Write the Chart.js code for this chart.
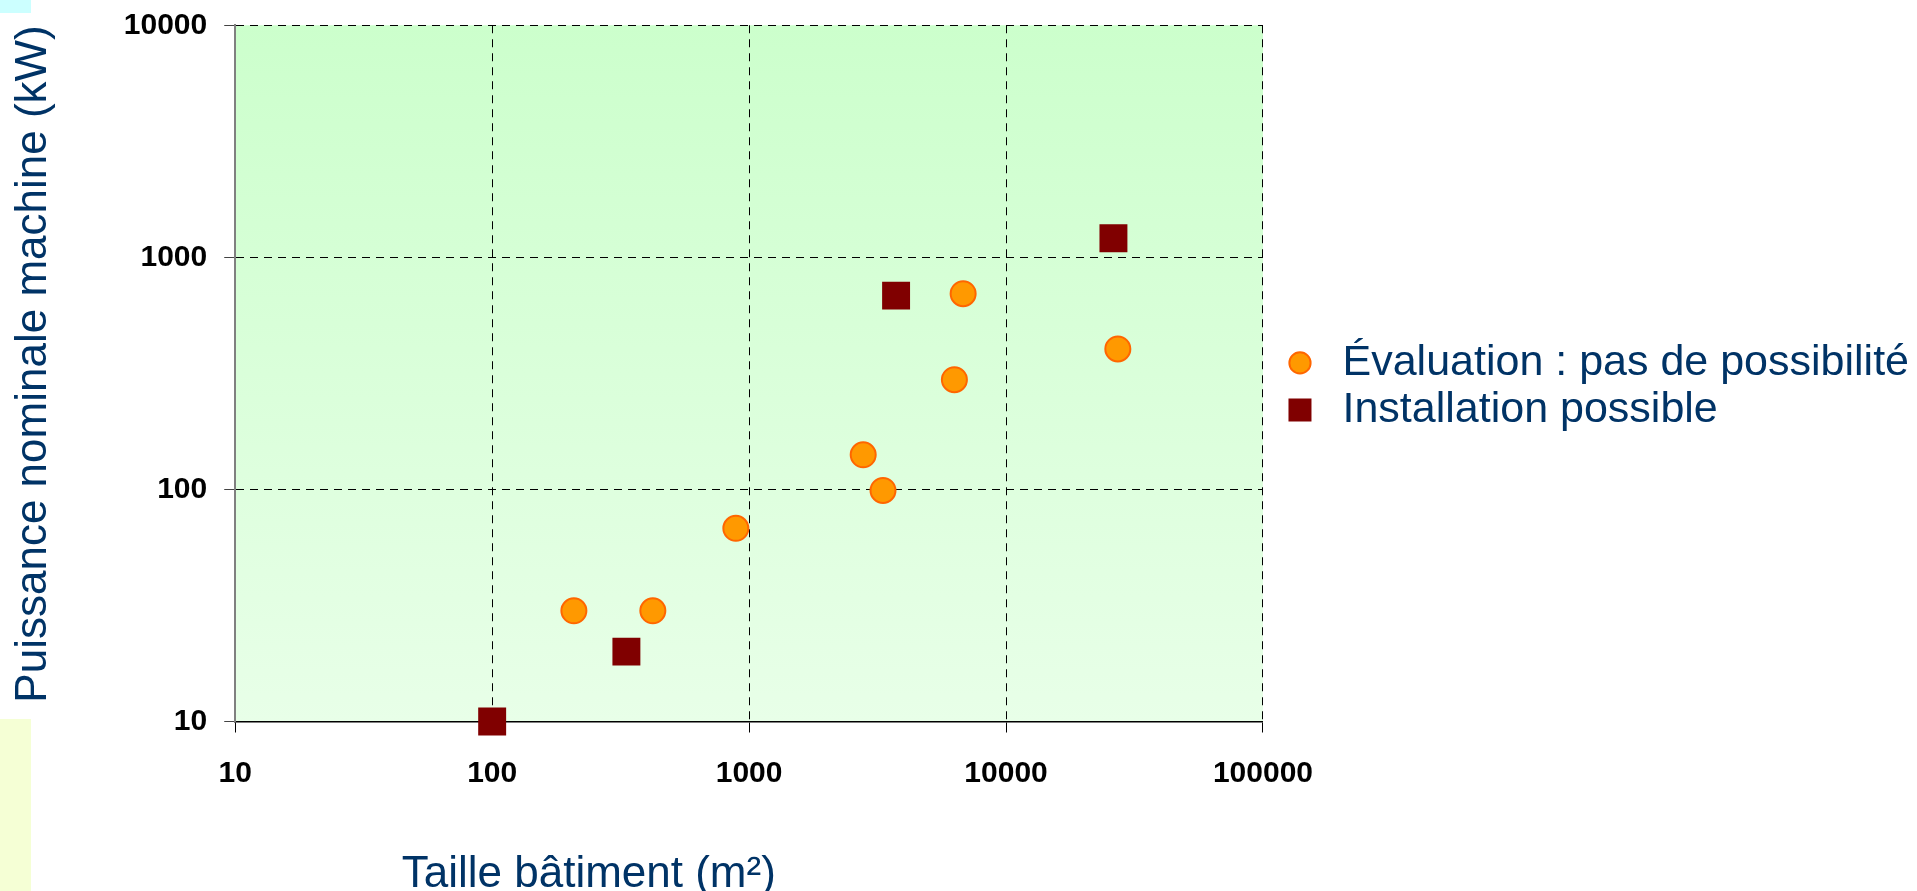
<!DOCTYPE html>
<html lang="fr">
<head>
<meta charset="UTF-8">
<title>Puissance nominale machine / taille bâtiment</title>
<script src="https://cdn.jsdelivr.net/npm/chart.js"></script>
<style>
  body { margin: 0; background: #fff; }
  .wrap { position: relative; width: 1917px; height: 891px; overflow: hidden; }
  .deco-top { position: absolute; left: 0; top: 0; width: 31px; height: 13px; background: #ccffff; }
  .deco-bottom { position: absolute; left: 0; top: 719px; width: 31px; height: 172px; background: #f5ffd5; }
  #chart { position: absolute; left: 0; top: 0; }
</style>
</head>
<body>
<div class="wrap">
  <div class="deco-top"></div>
  <div class="deco-bottom"></div>
  <canvas id="chart" width="1917" height="891"></canvas>
</div>
<script>
// graduations (échelles log)
const xTicks = [10, 100, 1000, 10000, 100000];
const yTicks = [10, 100, 1000, 10000];

// Évaluation : pas de possibilité
const evalX = [208, 422, 888, 2780, 3320, 6295, 6808, 27230];
const evalY = [30, 30, 68, 141, 99, 297, 697, 403];

// Installation possible
const instX = [100, 333, 3733, 26180];
const instY = [10, 20, 684, 1208];

const navy = '#003366';
const fontFamily = 'Arial, "Liberation Sans", sans-serif';
Chart.defaults.font.family = fontFamily;

// fond dégradé vert de la zone de tracé
const plotBg = {
  id: 'plotBg',
  beforeDraw(chart) {
    const { ctx, chartArea: a } = chart;
    const g = ctx.createLinearGradient(0, a.top, 0, a.bottom);
    g.addColorStop(0, '#ccffcc');
    g.addColorStop(1, '#e8ffe8');
    ctx.save();
    ctx.fillStyle = g;
    ctx.fillRect(a.left, a.top, a.width, a.height);
    ctx.restore();
  }
};

// titre de l'axe x, décalé à gauche comme sur la diapo
const xTitle = {
  id: 'xTitle',
  afterDraw(chart) {
    const { ctx, chartArea: a } = chart;
    ctx.save();
    ctx.font = '44px ' + fontFamily;
    ctx.fillStyle = navy;
    ctx.textAlign = 'center';
    ctx.textBaseline = 'alphabetic';
    ctx.fillText('Taille bâtiment (m²)', a.left + a.width * 0.344, a.bottom + 165.5);
    ctx.restore();
  }
};

// la légende est un peu plus éloignée du graphique que ce que Chart.js fait
const legendShift = {
  id: 'legendShift',
  afterLayout(chart) {
    if (chart.legend) {
      chart.legend.left += 12;
      chart.legend.right += 12;
    }
  }
};

const toPoints = (xs, ys) => xs.map((x, i) => ({ x, y: ys[i] }));
// pointillés pour la grille, trait plein pour les axes
const gridDash = c => (c.type === 'tick' && c.index > 0) ? [8, 6] : [];

new Chart(document.getElementById('chart'), {
  type: 'scatter',
  data: {
    datasets: [
      {
        label: 'Évaluation : pas de possibilité',
        data: toPoints(evalX, evalY),
        pointStyle: 'circle',
        pointRadius: 12.5,
        backgroundColor: '#ff9900',
        borderColor: '#ff6600',
        borderWidth: 2,
        clip: false
      },
      {
        label: 'Installation possible',
        data: toPoints(instX, instY),
        pointStyle: 'rect',
        pointRadius: 14.1,
        backgroundColor: '#800000',
        borderColor: '#800000',
        borderWidth: 8,
        clip: false
      }
    ]
  },
  options: {
    responsive: false,
    animation: false,
    events: [],
    layout: { padding: { top: 0, right: 10, left: 0, bottom: 76.5 } },
    scales: {
      x: {
        type: 'logarithmic',
        min: 10,
        max: 100000,
        afterBuildTicks: s => { s.ticks = xTicks.map(v => ({ value: v })); },
        ticks: {
          autoSkip: false, maxRotation: 0, padding: 23, color: '#000',
          font: { size: 30, weight: 'bold' },
          callback: v => String(v)
        },
        grid: { color: '#000', lineWidth: 1, tickLength: 11, tickColor: '#000' },
        border: { color: '#000', width: 1.5, dash: gridDash }
      },
      y: {
        type: 'logarithmic',
        min: 10,
        max: 10000,
        afterBuildTicks: s => { s.ticks = yTicks.map(v => ({ value: v })); },
        ticks: {
          autoSkip: false, padding: 17, color: '#000',
          font: { size: 30, weight: 'bold', lineHeight: 0.55 },
          callback: v => String(v)
        },
        grid: { color: '#000', lineWidth: 1, tickLength: 11, tickColor: '#444' },
        border: { color: '#808080', width: 2, dash: gridDash },
        title: {
          display: true,
          text: 'Puissance nominale machine (kW)',
          align: 'end',
          color: navy,
          font: { size: 44 },
          padding: { top: 7, bottom: 47 }
        }
      }
    },
    plugins: {
      tooltip: { enabled: false },
      legend: {
        position: 'right',
        fullSize: false,
        maxWidth: 700,
        // titre vide : sert juste à descendre un peu la légende
        title: { display: true, text: '', font: { size: 10 }, padding: { top: 0, bottom: 14 } },
        labels: {
          usePointStyle: true,
          boxWidth: 42,
          boxHeight: 15,
          padding: 4,
          color: navy,
          font: { size: 43 }
        }
      }
    }
  },
  plugins: [plotBg, xTitle, legendShift]
});
</script>
</body>
</html>
